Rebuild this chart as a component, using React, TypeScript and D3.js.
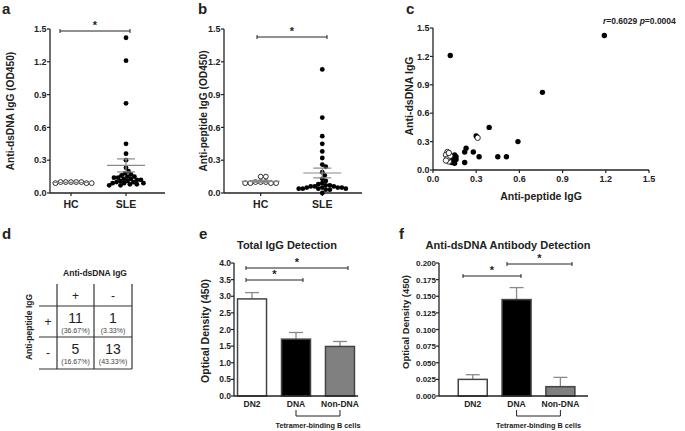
import React from "react";
import * as d3 from "d3";

const FONT = "'Liberation Sans', Arial, Helvetica, sans-serif";
const INK = "#222";
const GREY = "#8a8a8a";

// a / b: individual OD450 values
const groups = ["HC", "SLE"];
const dsDnaHC = [0.1, 0.1, 0.09, 0.1, 0.09, 0.09, 0.1, 0.1];
const dsDnaSLE = [
  1.42, 1.21, 0.82, 0.45, 0.36, 0.3, 0.23, 0.2, 0.18, 0.17, 0.16, 0.15, 0.15, 0.14, 0.14,
  0.13, 0.13, 0.12, 0.12, 0.11, 0.11, 0.1, 0.1, 0.09, 0.09, 0.09, 0.08, 0.08, 0.07, 0.07,
];
const peptideHC = [0.15, 0.15, 0.1, 0.1, 0.09, 0.09, 0.09, 0.1, 0.09];
const peptideSLE = [
  1.13, 0.69, 0.52, 0.45, 0.38, 0.32, 0.26, 0.24, 0.19, 0.16, 0.13, 0.11, 0.09, 0.08, 0.07,
  0.07, 0.06, 0.06, 0.06, 0.05, 0.05, 0.05, 0.05, 0.04, 0.04, 0.04, 0.04, 0.03, 0.03, 0.0,
];
const odTicks = [0, 0.3, 0.6, 0.9, 1.2, 1.5];

// c: anti-peptide (x) vs anti-dsDNA (y)
const corrSLE = [
  [1.19, 1.42], [0.76, 0.82], [0.12, 1.21], [0.39, 0.45], [0.3, 0.36], [0.59, 0.3],
  [0.45, 0.14], [0.51, 0.14], [0.32, 0.14], [0.28, 0.19], [0.23, 0.23], [0.22, 0.19],
  [0.22, 0.08], [0.15, 0.16], [0.15, 0.12], [0.14, 0.1], [0.15, 0.07], [0.13, 0.14],
  [0.14, 0.09], [0.16, 0.11], [0.12, 0.12], [0.13, 0.08], [0.16, 0.14], [0.14, 0.12],
];
const corrHC = [
  [0.1, 0.19], [0.11, 0.09], [0.09, 0.16], [0.1, 0.12], [0.31, 0.34], [0.12, 0.15],
  [0.09, 0.1], [0.11, 0.18],
];
const corrTicks = [0, 0.3, 0.6, 0.9, 1.2, 1.5];

// d: contingency table
const tableSigns = ["+", "-"];
const tableCounts = [[11, 1], [5, 13]];
const tablePercents = [["36.67%", "3.33%"], ["16.67%", "43.33%"]];

// e / f: bar charts (mean, SEM)
const cellTypes = ["DN2", "DNA", "Non-DNA"];
const barFills = ["#ffffff", "#000000", "#808080"];
const totalIgG = [2.92, 1.71, 1.49];
const totalIgGErr = [0.19, 0.2, 0.15];
const totalTicks = [0, 0.5, 1, 1.5, 2, 2.5, 3, 3.5, 4];
const antiDsDna = [0.025, 0.145, 0.014];
const antiDsDnaErr = [0.007, 0.018, 0.014];
const dsTicks = [0, 0.025, 0.05, 0.075, 0.1, 0.125, 0.15, 0.175, 0.2];

// simple beeswarm: closest free horizontal offset for every point
function swarm(values: number[], y: (v: number) => number, cx: number, d: number) {
  const pts = values.map((v) => ({ v, y: y(v) })).sort((a, b) => a.y - b.y);
  const placed: { x: number; y: number }[] = [];
  pts.forEach((p) => {
    const cands = [0];
    placed.forEach((q) => {
      const dy = Math.abs(q.y - p.y);
      if (dy < d) {
        const dx = Math.sqrt(d * d - dy * dy);
        cands.push(q.x + dx, q.x - dx);
      }
    });
    cands.sort((a, b) => Math.abs(a) - Math.abs(b));
    const x = cands.find((c) => placed.every((q) => (q.x - c) ** 2 + (q.y - p.y) ** 2 >= d * d - 0.01)) ?? 0;
    placed.push({ x, y: p.y });
  });
  return placed.map((p) => ({ x: cx + p.x, y: p.y }));
}

function SigBar({ x1, x2, y }: { x1: number; x2: number; y: number }) {
  return (
    <g stroke={INK} strokeWidth={1}>
      <line x1={x1} x2={x2} y1={y} y2={y} />
      <line x1={x1} x2={x1} y1={y - 2} y2={y + 2} />
      <line x1={x2} x2={x2} y1={y - 2} y2={y + 2} />
      <text x={(x1 + x2) / 2} y={y - 2} textAnchor="middle" fontSize={11} fontWeight="bold" fill={INK} stroke="none">*</text>
    </g>
  );
}

function DotPanel({ lay, hc, sle, title, letter }: any) {
  const y = d3.scaleLinear().domain([0, 1.5]).range([lay.y0, lay.y1]);
  const x = d3.scalePoint().domain(groups).range([lay.ax, lay.ae]).padding(lay.pad).align(lay.align);
  const r = 2.4;
  const sets = [hc, sle];
  const gaps = [5.2, 4.1];
  return (
    <g>
      <text x={lay.letterX} y={14} fontSize={15} fontWeight="bold" fill={INK}>{letter}</text>
      <text transform={`translate(${lay.titleX},${(lay.y0 + lay.y1) / 2}) rotate(-90)`} textAnchor="middle" fontSize={10.2} fontWeight="bold" fill={INK}>{title}</text>
      {odTicks.map((t) => (
        <g key={t}>
          <line x1={lay.ax - 3} x2={lay.ax} y1={y(t)} y2={y(t)} stroke={INK} strokeWidth={1.2} />
          <text x={lay.ax - 3.5} y={y(t) + 3.2} textAnchor="end" fontSize={9} fontWeight="bold" fill={INK}>{t.toFixed(1)}</text>
        </g>
      ))}
      <line x1={lay.ax} x2={lay.ax} y1={lay.y1} y2={lay.y0} stroke={INK} strokeWidth={1.3} />
      <line x1={lay.ax} x2={lay.ae} y1={lay.y0} y2={lay.y0} stroke={INK} strokeWidth={1.3} />
      {groups.map((g) => (
        <g key={g}>
          <line x1={x(g)} x2={x(g)} y1={lay.y0} y2={lay.y0 + 3} stroke={INK} strokeWidth={1.2} />
          <text x={x(g)} y={lay.y0 + 15} textAnchor="middle" fontSize={10.5} fontWeight="bold" fill={INK}>{g}</text>
        </g>
      ))}
      {sets.map((vals: number[], gi: number) => {
        const cx = x(groups[gi])!;
        const pts = swarm(vals, y, cx, gaps[gi]);
        const m = d3.mean(vals)!;
        const sem = d3.deviation(vals)! / Math.sqrt(vals.length);
        return (
          <g key={gi}>
            {pts.map((p, i) => (
              <circle key={i} cx={p.x} cy={p.y} r={r} fill={gi === 0 ? "#fff" : "#000"} stroke="#000" strokeWidth={gi === 0 ? 0.8 : 0} />
            ))}
            <g stroke={GREY} strokeWidth={1.2}>
              <line x1={cx - 19} x2={cx + 19} y1={y(m)} y2={y(m)} />
              <line x1={cx} x2={cx} y1={y(m - sem)} y2={y(m + sem)} />
              <line x1={cx - 9} x2={cx + 9} y1={y(m - sem)} y2={y(m - sem)} />
              <line x1={cx - 9} x2={cx + 9} y1={y(m + sem)} y2={y(m + sem)} />
            </g>
          </g>
        );
      })}
      <SigBar x1={lay.sig[0]} x2={lay.sig[1]} y={lay.sig[2]} />
    </g>
  );
}

function CorrPanel() {
  const x = d3.scaleLinear().domain([0, 1.5]).range([433, 649]);
  const y = d3.scaleLinear().domain([0, 1.5]).range([170, 28]);
  return (
    <g>
      <text x={406} y={14} fontSize={15} fontWeight="bold" fill={INK}>c</text>
      <text transform={`translate(413,96) rotate(-90)`} textAnchor="middle" fontSize={10.5} fontWeight="bold" fill={INK}>Anti-dsDNA IgG</text>
      <text x={541} y={200} textAnchor="middle" fontSize={10.5} fontWeight="bold" fill={INK}>Anti-peptide IgG</text>
      {corrTicks.map((t) => (
        <g key={t}>
          <line x1={430} x2={433} y1={y(t)} y2={y(t)} stroke={INK} strokeWidth={1.2} />
          <text x={429.5} y={y(t) + 3.2} textAnchor="end" fontSize={9} fontWeight="bold" fill={INK}>{t.toFixed(1)}</text>
          <line x1={x(t)} x2={x(t)} y1={170} y2={173} stroke={INK} strokeWidth={1.2} />
          <text x={x(t)} y={182} textAnchor="middle" fontSize={9} fontWeight="bold" fill={INK}>{t.toFixed(1)}</text>
        </g>
      ))}
      <line x1={433} x2={433} y1={28} y2={170} stroke={INK} strokeWidth={1.3} />
      <line x1={433} x2={649} y1={170} y2={170} stroke={INK} strokeWidth={1.3} />
      {corrSLE.map((d, i) => (
        <circle key={"s" + i} cx={x(d[0])} cy={y(d[1])} r={2.7} fill="#000" />
      ))}
      {corrHC.map((d, i) => (
        <circle key={"h" + i} cx={x(d[0])} cy={y(d[1])} r={2.7} fill="#fff" stroke="#000" strokeWidth={0.8} />
      ))}
      <text x={603} y={24} fontSize={8.5} fontWeight="bold" fill={INK}>
        <tspan fontStyle="italic">r</tspan>=0.6029 <tspan fontStyle="italic">p</tspan>=0.0004
      </text>
    </g>
  );
}

function TablePanel() {
  const cols = [57, 94, 132];
  const rows = [284, 306, 337, 369];
  const left = 39;
  return (
    <g>
      <text x={2} y={239} fontSize={15} fontWeight="bold" fill={INK}>d</text>
      <text x={95} y={276} textAnchor="middle" fontSize={8.5} fontWeight="bold" fill={INK}>Anti-dsDNA IgG</text>
      <text transform={`translate(32,327) rotate(-90)`} textAnchor="middle" fontSize={8.5} fontWeight="bold" fill={INK}>Anti-peptide IgG</text>
      <g stroke="#333" strokeWidth={1.2}>
        {cols.map((c) => (
          <line key={c} x1={c} x2={c} y1={rows[0]} y2={rows[3]} />
        ))}
        {rows.slice(1).map((r) => (
          <line key={r} x1={left} x2={cols[2]} y1={r} y2={r} />
        ))}
      </g>
      {tableSigns.map((s, i) => (
        <g key={i}>
          <text x={(cols[i] + cols[i + 1]) / 2} y={300} textAnchor="middle" fontSize={12} fill={INK}>{s}</text>
          <text x={(left + cols[0]) / 2} y={(rows[i + 1] + rows[i + 2]) / 2 + 4} textAnchor="middle" fontSize={12} fill={INK}>{s}</text>
        </g>
      ))}
      {tableCounts.map((row, ri) =>
        row.map((n, ci) => {
          const cx = (cols[ci] + cols[ci + 1]) / 2;
          const top = rows[ri + 1];
          return (
            <g key={`${ri}-${ci}`}>
              <text x={cx} y={top + 17} textAnchor="middle" fontSize={14} fill={INK}>{n}</text>
              <text x={cx} y={top + 27} textAnchor="middle" fontSize={7} fill="#444">({tablePercents[ri][ci]})</text>
            </g>
          );
        })
      )}
    </g>
  );
}

function BarPanel({ lay, values, errs, ticks, fmt, title, letter }: any) {
  const y = d3.scaleLinear().domain([0, ticks[ticks.length - 1]]).range([396, 263]);
  const x = d3.scalePoint().domain(cellTypes).range([lay.ax, lay.ae]).padding(lay.pad).align(lay.align);
  const bw = 29;
  const xDNA = x("DNA")!;
  const xNon = x("Non-DNA")!;
  return (
    <g>
      <text x={lay.letterX} y={239} fontSize={15} fontWeight="bold" fill={INK}>{letter}</text>
      <text x={lay.titleCx} y={249} textAnchor="middle" fontSize={11} fontWeight="bold" fill={INK}>{title}</text>
      <text transform={`translate(${lay.titleX},${lay.titleCy}) rotate(-90)`} textAnchor="middle" fontSize={lay.titleSize} fontWeight="bold" fill={INK}>Optical Density (450)</text>
      {ticks.map((t: number) => (
        <g key={t}>
          <line x1={lay.ax - 3} x2={lay.ax} y1={y(t)} y2={y(t)} stroke={INK} strokeWidth={1.2} />
          <text x={lay.ax - 3} y={y(t) + 3} textAnchor="end" fontSize={lay.tickSize} fontWeight="bold" fill={INK}>{fmt(t)}</text>
        </g>
      ))}
      {cellTypes.map((c, i) => {
        const cx = x(c)!;
        return (
          <g key={c}>
            <g stroke={GREY} strokeWidth={1.3}>
              <line x1={cx} x2={cx} y1={y(values[i])} y2={y(values[i] + errs[i])} />
              <line x1={cx - 7} x2={cx + 7} y1={y(values[i] + errs[i])} y2={y(values[i] + errs[i])} />
            </g>
            <rect x={cx - bw / 2} y={y(values[i])} width={bw} height={396 - y(values[i])} fill={barFills[i]} stroke="#444" strokeWidth={1.5} />
            <text x={cx} y={407} textAnchor="middle" fontSize={8.5} fontWeight="bold" fill={INK}>{c}</text>
          </g>
        );
      })}
      <line x1={lay.ax} x2={lay.ax} y1={263} y2={396} stroke={INK} strokeWidth={1.3} />
      <line x1={lay.ax} x2={lay.ae} y1={396} y2={396} stroke={INK} strokeWidth={1.3} />
      <path d={`M${xDNA},410V416H${xNon}V410`} fill="none" stroke={INK} strokeWidth={1} />
      <text x={(xDNA + xNon) / 2} y={428} textAnchor="middle" fontSize={7.3} fontWeight="bold" fill={INK}>Tetramer-binding B cells</text>
      {lay.sigs.map((s: number[], i: number) => (
        <SigBar key={i} x1={s[0]} x2={s[1]} y={s[2]} />
      ))}
    </g>
  );
}

const layA = { ax: 50, ae: 165, y0: 193, y1: 29, pad: 0.545, align: 0.35, titleX: 14, letterX: 2, sig: [60, 130, 31] };
const layB = { ax: 224, ae: 362, y0: 193, y1: 29, pad: 0.62, align: 0.48, titleX: 207, letterX: 198, sig: [257, 327, 37] };
const layE = { ax: 234, ae: 358, pad: 0.41, align: 0.5, letterX: 199, titleX: 209, titleCy: 331, titleSize: 10.5, tickSize: 8.5, titleCx: 287, sigs: [[246, 348, 268], [246, 303, 280]] };
const layF = { ax: 439, ae: 588, pad: 0.7, align: 0.55, letterX: 399, titleX: 409, titleCy: 322, titleSize: 9.5, tickSize: 8, titleCx: 508, sigs: [[463, 521, 276], [507, 572, 264]] };

export default function App() {
  return (
    <svg width={685} height={431} style={{ position: "absolute", left: 0, top: 0, background: "#fff" }} fontFamily={FONT}>
      <DotPanel lay={layA} hc={dsDnaHC} sle={dsDnaSLE} title="Anti-dsDNA IgG (OD450)" letter="a" />
      <DotPanel lay={layB} hc={peptideHC} sle={peptideSLE} title="Anti-peptide IgG (OD450)" letter="b" />
      <CorrPanel />
      <TablePanel />
      <BarPanel lay={layE} values={totalIgG} errs={totalIgGErr} ticks={totalTicks} fmt={(t: number) => t.toFixed(1)} title="Total IgG Detection" letter="e" />
      <BarPanel lay={layF} values={antiDsDna} errs={antiDsDnaErr} ticks={dsTicks} fmt={(t: number) => t.toFixed(3)} title="Anti-dsDNA Antibody Detection" letter="f" />
    </svg>
  );
}
